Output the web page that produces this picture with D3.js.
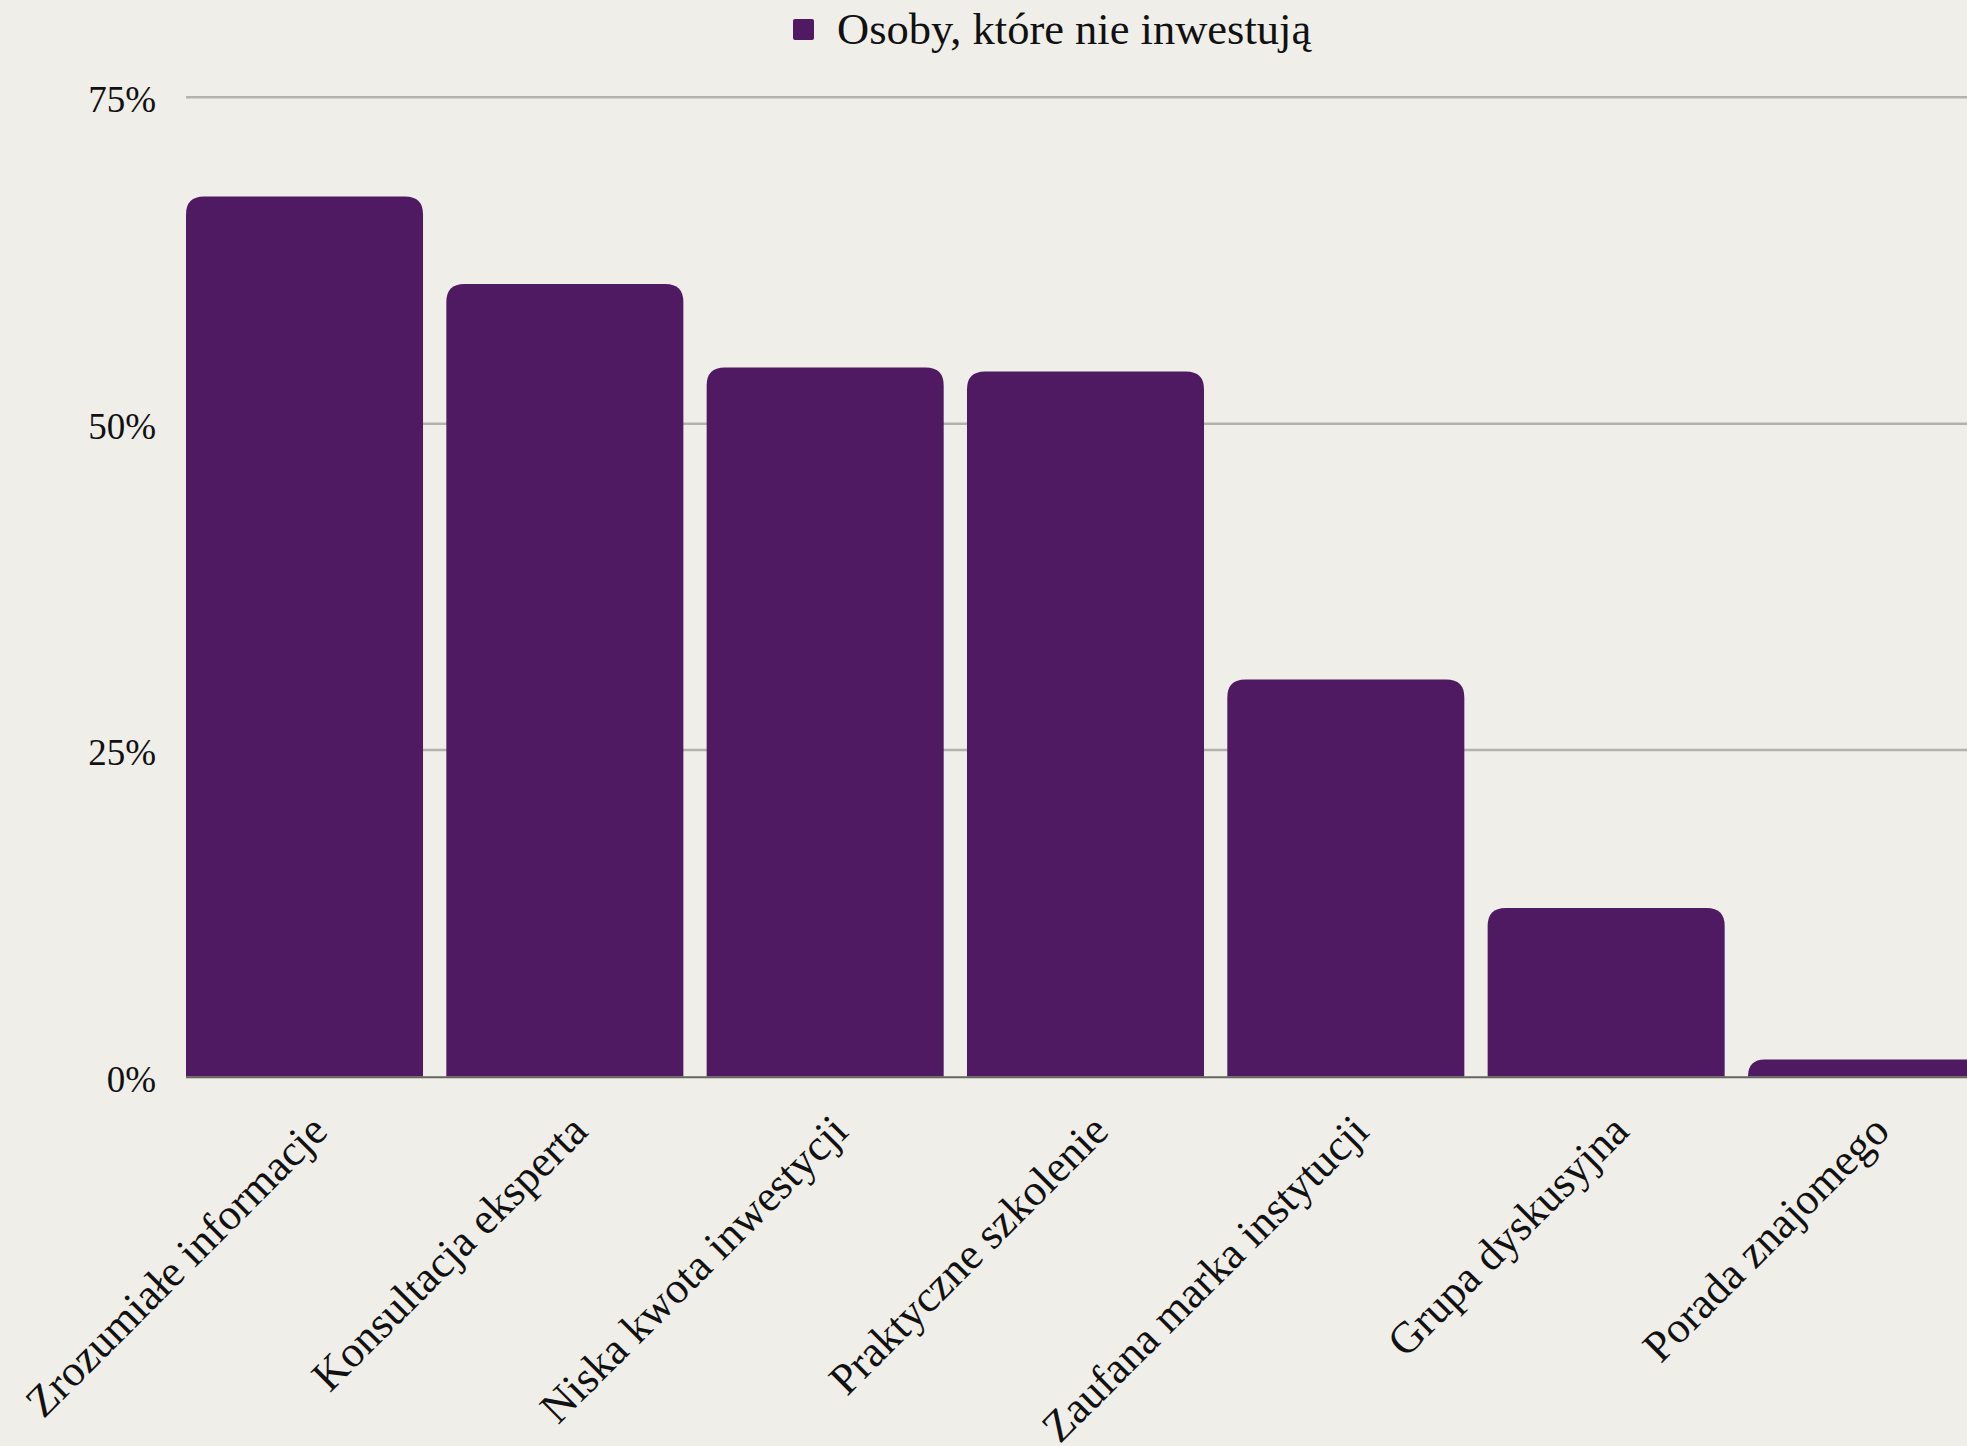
<!DOCTYPE html>
<html lang="pl">
<head>
  <meta charset="utf-8">
  <title>Osoby, które nie inwestują</title>
  <script src="https://cdn.jsdelivr.net/npm/d3@7"></script>
  <style>
    body { margin: 0; background: #efeee8; overflow: hidden; }
    svg { display: block; }
    .txt { font-family: 'Liberation Serif', 'DejaVu Serif', serif; fill: #111; }
    .grid line { stroke: #b3b3ad; stroke-width: 2.5; }
  </style>
</head>
<body>
  <div id="chart"></div>
  <script>
    // dane
    const categories = [
      "Zrozumiałe informacje",
      "Konsultacja eksperta",
      "Niska kwota inwestycji",
      "Praktyczne szkolenie",
      "Zaufana marka instytucji",
      "Grupa dyskusyjna",
      "Porada znajomego"
    ];
    const values = [67.4, 60.7, 54.3, 54.0, 30.4, 12.9, 1.3];
    const yTicks = [0, 25, 50, 75];
    const seriesName = "Osoby, które nie inwestują";

    const width = 1967, height = 1446;
    const barColor = "#4f1a61";

    const svg = d3.select("#chart").append("svg")
      .attr("width", width).attr("height", height);

    const x = d3.scaleBand()
      .domain(categories)
      .range([186, 1985])
      .paddingInner(0.0895)
      .paddingOuter(0)
      .align(0);

    const y = d3.scaleLinear().domain([0, 75]).range([1076.5, 97.3]);

    // linie siatki
    const grid = svg.append("g").attr("class", "grid");
    grid.selectAll("line")
      .data(yTicks.filter(t => t > 0))
      .enter().append("line")
      .attr("x1", 186).attr("x2", width)
      .attr("y1", d => y(d)).attr("y2", d => y(d));

    // etykiety osi Y
    svg.append("g").selectAll("text")
      .data(yTicks).enter().append("text")
      .attr("class", "txt")
      .attr("x", 156)
      .attr("y", d => y(d) + 15)
      .attr("text-anchor", "end")
      .style("font-size", "37px")
      .text(d => d + "%");

    // słupki z zaokrąglonymi górnymi rogami
    const r = 18;
    const barPath = (x0, w, yTop, yBot) => {
      const rr = Math.min(r, (yBot - yTop), w / 2);
      return `M${x0},${yBot}V${yTop + rr}Q${x0},${yTop} ${x0 + rr},${yTop}` +
        `H${x0 + w - rr}Q${x0 + w},${yTop} ${x0 + w},${yTop + rr}V${yBot}Z`;
    };

    svg.append("g").selectAll("path")
      .data(values).enter().append("path")
      .attr("fill", barColor)
      .attr("d", (d, i) => barPath(x(categories[i]), x.bandwidth(), y(d), y(0)));

    // oś X
    svg.append("line")
      .attr("x1", 186).attr("x2", width)
      .attr("y1", y(0) + 0.8).attr("y2", y(0) + 0.8)
      .attr("stroke", "#66665f").attr("stroke-width", 2);

    svg.append("g").selectAll("text")
      .data(categories).enter().append("text")
      .attr("class", "txt")
      .attr("text-anchor", "end")
      .style("font-size", "44px")
      .attr("transform", d => {
        const cx = x(d) + x.bandwidth() / 2 + 25;
        return `translate(${cx},${y(0) + 57}) rotate(-45)`;
      })
      .text(d => d);

    // legenda
    const legend = svg.append("g");
    legend.append("rect")
      .attr("x", 793).attr("y", 19).attr("width", 21).attr("height", 21)
      .attr("rx", 2).attr("fill", barColor);
    legend.append("text")
      .attr("class", "txt")
      .attr("x", 837).attr("y", 44)
      .style("font-size", "44.5px")
      .text(seriesName);
  </script>
</body>
</html>
